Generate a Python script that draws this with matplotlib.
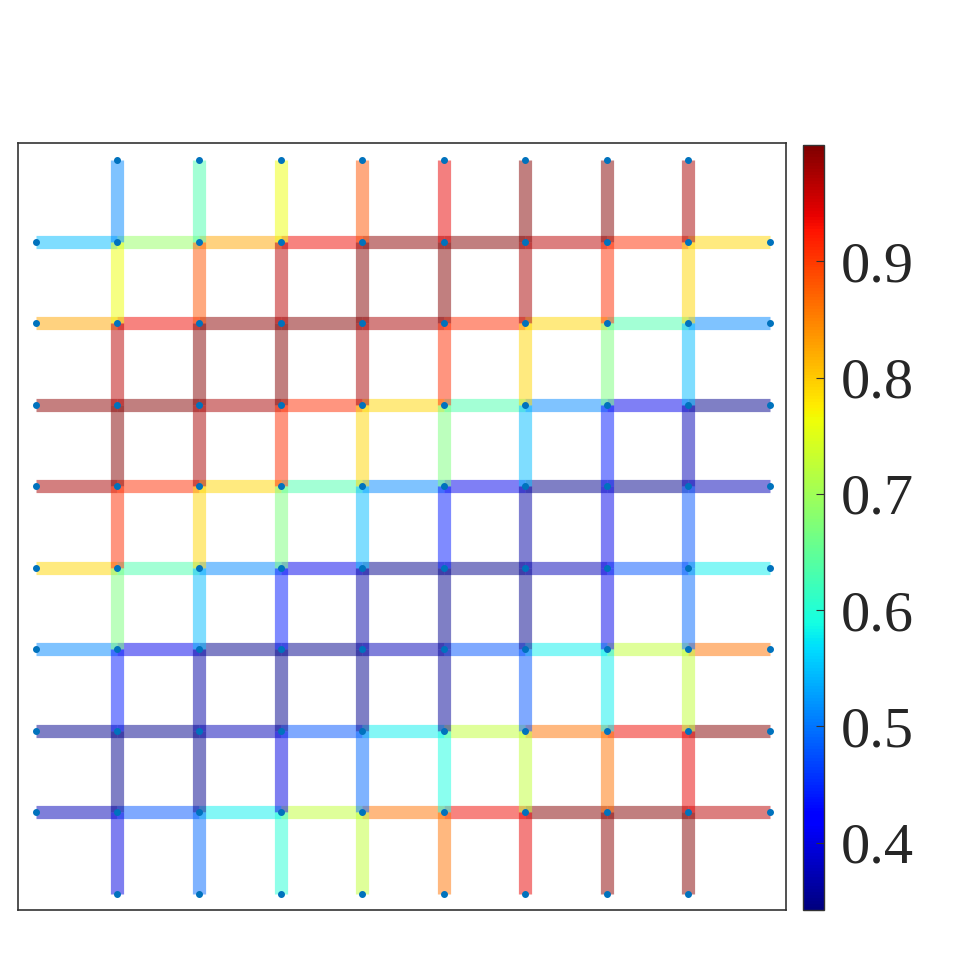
import matplotlib.pyplot as plt
import matplotlib as mpl
import numpy as np
from matplotlib.collections import LineCollection

plt.rcParams['font.family'] = ['Liberation Serif', 'DejaVu Serif']

# edge values, horizontal edges: one row per grid row (top to bottom), 9 edges left to right
h_vals = [
    [0.546, 0.69, 0.825, 0.935, 0.99, 0.997, 0.965, 0.91, 0.79],
    [0.825, 0.935, 0.99, 0.997, 0.975, 0.91, 0.79, 0.63, 0.513],
    [0.99, 0.997, 0.975, 0.91, 0.79, 0.63, 0.513, 0.405, 0.352],
    [0.975, 0.91, 0.79, 0.63, 0.513, 0.405, 0.352, 0.35, 0.375],
    [0.79, 0.63, 0.513, 0.405, 0.352, 0.35, 0.375, 0.48, 0.58],
    [0.513, 0.405, 0.352, 0.35, 0.375, 0.48, 0.58, 0.727, 0.86],
    [0.35, 0.35, 0.375, 0.48, 0.58, 0.727, 0.86, 0.935, 0.997],
    [0.375, 0.48, 0.58, 0.727, 0.86, 0.935, 0.997, 0.997, 0.965],
]
# vertical edges: one row per grid column (left to right), 9 edges top to bottom
v_vals = [
    [0.513, 0.763, 0.965, 0.997, 0.91, 0.67, 0.44, 0.35, 0.40],
    [0.63, 0.88, 0.997, 0.975, 0.79, 0.546, 0.364, 0.352, 0.493],
    [0.763, 0.965, 0.997, 0.91, 0.67, 0.44, 0.35, 0.40, 0.60],
    [0.88, 0.997, 0.975, 0.79, 0.546, 0.364, 0.352, 0.493, 0.727],
    [0.94, 0.997, 0.91, 0.67, 0.44, 0.35, 0.355, 0.59, 0.86],
    [0.997, 0.975, 0.79, 0.546, 0.364, 0.352, 0.48, 0.727, 0.94],
    [0.997, 0.91, 0.67, 0.44, 0.405, 0.405, 0.58, 0.86, 0.99],
    [0.975, 0.79, 0.546, 0.375, 0.48, 0.493, 0.727, 0.94, 0.997],
]
vmin, vmax = 0.342, 1.0
n = 9

segs = []
vals = []
for r in range(8):
    y = n - (r + 1)
    for k in range(9):
        segs.append([(k, y), (k + 1, y)])
        vals.append(h_vals[r][k])
for c in range(8):
    x = c + 1
    for k in range(9):
        segs.append([(x, n - k), (x, n - k - 1)])
        vals.append(v_vals[c][k])

fig = plt.figure(figsize=(9.6, 9.6), dpi=100)
ax = fig.add_axes([0.01875, 0.052, 0.8, 0.799])
norm = mpl.colors.Normalize(vmin=vmin, vmax=vmax)
lc = LineCollection(segs, cmap='jet', norm=norm, linewidths=9.5, alpha=0.5, capstyle='butt')
lc.set_array(np.array(vals))
ax.add_collection(lc)

# nodes
pts = np.unique(np.array(segs).reshape(-1, 2), axis=0)
ax.plot(pts[:, 0], pts[:, 1], 'o', color='#0072BD', markersize=4, linestyle='none')

ax.set_xlim(-0.22, 9.2)
ax.set_ylim(-0.2, 9.21)
ax.set_xticks([])
ax.set_yticks([])
for s in ax.spines.values():
    s.set_color('#333333')
    s.set_linewidth(1.2)

cax = fig.add_axes([0.8365, 0.052, 0.022, 0.797])
sm = mpl.cm.ScalarMappable(norm=norm, cmap='jet')
cb = fig.colorbar(sm, cax=cax)
cb.set_ticks([0.4, 0.5, 0.6, 0.7, 0.8, 0.9])
cb.ax.tick_params(direction='in', length=6, width=0.8, color='#333333', labelsize=42, pad=12, labelcolor='#262626')
cb.outline.set_edgecolor('#333333')
cb.outline.set_linewidth(1.0)

fig.savefig('out.png', dpi=100)
